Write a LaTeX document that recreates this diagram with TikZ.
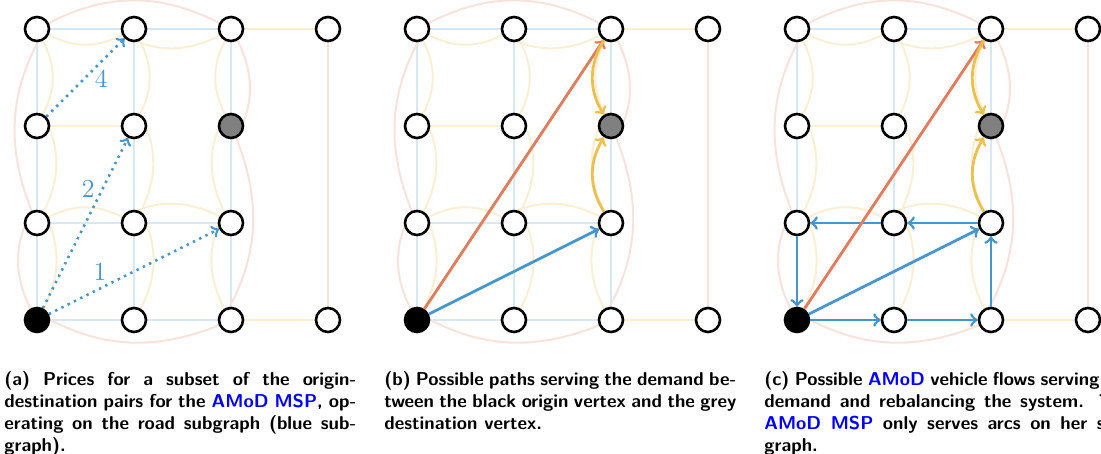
\documentclass[tikz,border=0pt]{standalone}
\usepackage{fontspec}
\usetikzlibrary{backgrounds}

\definecolor{bluenet}{RGB}{70,150,205}
\definecolor{rednet}{RGB}{225,125,90}
\definecolor{yellownet}{RGB}{235,192,80}

% one justified caption line
\newcommand{\fullline}[2][176pt]{\makebox[#1][s]{#2}}

\begin{document}
\begin{tikzpicture}[
    x=48.5pt, y=48.5pt,
    bend angle=27,
    vertex/.style={draw, fill=white, circle, line width=1.3pt, inner sep=0, minimum size=12pt},
    bluelink/.style={draw=bluenet!22, line width=1pt},
    yellowlink/.style={draw=yellownet!25, line width=1pt},
    redlink/.style={draw=rednet!22, line width=1pt},
    price/.style={bluenet, line width=1.3pt, dash pattern=on 1.2pt off 2.3pt, ->},
    pricelabel/.style={text=bluenet, font=\fontsize{13}{15}\selectfont},
    ride/.style={line width=1.4pt, ->},
    caption/.style={text width=176pt, align=justify, inner sep=0, anchor=base west,
      font=\sffamily\bfseries\fontsize{9.3}{11}\selectfont}
  ]
  \path[use as bounding box, clip] (-18.5pt,-67pt) rectangle (532pt,160pt);

  % the same network in all three panels
  \foreach \p/\dx in {a/0pt, b/190pt, c/380pt} {
    \begin{scope}[xshift=\dx]
      \foreach \i in {1,2,3}
        \foreach \j in {1,...,4} {
          \def\nodefill{white}
          \ifnum\i\j=11 \def\nodefill{black}\fi
          \ifnum\i\j=33 \def\nodefill{gray}\fi
          \node[vertex, fill=\nodefill] (\p\i\j) at (\i-1,\j-1) {};
        }
      \node[vertex] (\p41) at (3,0) {};
      \node[vertex] (\p44) at (3,3) {};
      \begin{pgfonlayer}{background}
        % road subgraph
        \draw[bluelink] (\p11) -- (\p21) -- (\p31) (\p12) -- (\p22) -- (\p32) (\p14) -- (\p24) -- (\p34);
        \draw[bluelink] (\p11) -- (\p12) -- (\p13) -- (\p14) (\p21) -- (\p22) -- (\p23) -- (\p24)
          (\p31) -- (\p32) -- (\p33) -- (\p34);
        % yellow subgraph
        \draw[yellowlink] (\p13) -- (\p23) (\p34) -- (\p44) (\p31) -- (\p41);
        \draw[yellowlink] (\p14) to[bend right] (\p24) to[bend right] (\p34);
        \draw[yellowlink] (\p12) to[bend left] (\p22) to[bend left] (\p32);
        \draw[yellowlink] (\p14) to[bend left] (\p13) to[bend left] (\p12) to[bend left] (\p11);
        \draw[yellowlink] (\p24) to[bend left] (\p23) to[bend left] (\p22) to[bend left] (\p21);
        \draw[yellowlink] (\p34) to[bend right] (\p33) to[bend right] (\p32) to[bend right] (\p31);
        % red subgraph
        \draw[redlink] (\p41) -- (\p44);
        \draw[redlink] (\p34) to[bend right] (\p14) to[bend right] (\p12) to[bend right] (\p11)
          to[bend right] (\p31) to[bend right] (\p33) to[bend right] (\p34);
      \end{pgfonlayer}
    \end{scope}
  }

  % (a) prices
  \draw[price] (a11) -- node[pricelabel, pos=0.3, above] {1} (a32);
  \draw[price] (a11) -- node[pricelabel, pos=0.7, left] {2} (a23);
  \draw[price] (a13) -- node[pricelabel, pos=0.7, below] {4} (a24);

  % (c) rebalancing flows
  \draw[ride, bluenet] (c11) edge (c21) (c21) edge (c31) (c31) edge (c32)
    (c32) edge (c22) (c22) edge (c12) (c12) edge (c11);

  % (b), (c) paths
  \foreach \p in {b, c} {
    \draw[ride, bluenet] (\p11) -- (\p32);
    \draw[ride, rednet] (\p11) -- (\p34);
    \draw[ride, yellownet] (\p34) to[bend right=32] (\p33);
    \draw[ride, yellownet] (\p32) to[bend left=32] (\p33);
  }

  \node[caption] (capa) at (-16.5pt,-33pt) {\fullline{(a) Prices for a subset of the origin-}\\
    \fullline{destination pairs for the \textcolor{blue}{AMoD MSP}, op-}\\
    \fullline{erating on the road subgraph (blue sub-}\\ graph).};
  \node[caption] (capb) at (173.5pt,-33pt) {\fullline{(b) Possible paths serving the demand be-}\\
    \fullline{tween the black origin vertex and the grey}\\ destination vertex.};
  \node[caption, text width=184pt] (capc) at (363.5pt,-33pt) {%
    \fullline[184pt]{(c) Possible \textcolor{blue}{AMoD} vehicle flows serving the}\\
    \fullline[184pt]{demand and rebalancing the system. The}\\
    \fullline[184pt]{\textcolor{blue}{AMoD MSP} only serves arcs on her sub-}\\ graph.};
\end{tikzpicture}
\end{document}
